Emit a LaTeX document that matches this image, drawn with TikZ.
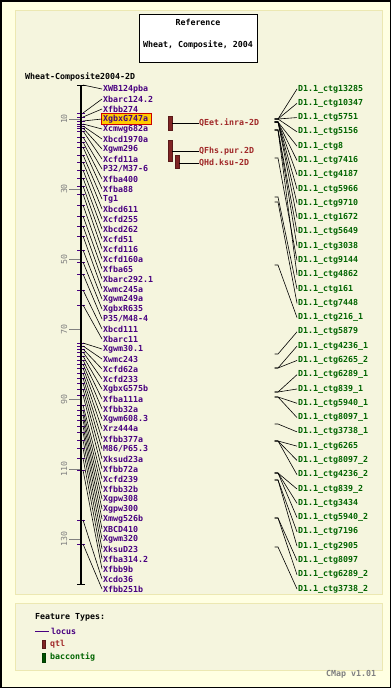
\documentclass[tikz,border=0pt]{standalone}
\usepackage{fontspec}
\newfontfamily\px{DejaVu Sans Mono}
\definecolor{outerbg}{RGB}{255,255,226}
\definecolor{panelbg}{RGB}{245,245,222}
\definecolor{panelline}{RGB}{236,232,178}
\definecolor{locuscol}{RGB}{72,0,128}
\definecolor{qtlcol}{RGB}{128,36,36}
\definecolor{qtltext}{RGB}{160,40,40}
\definecolor{bacol}{RGB}{0,100,0}
\definecolor{greytxt}{RGB}{128,128,128}
\definecolor{hlfill}{RGB}{255,204,0}
\tikzset{
  lbl/.style={font=\px\bfseries\fontsize{8.3}{9}\selectfont, inner sep=0pt, anchor=west},
  loclbl/.style={lbl, text=locuscol},
  qtllbl/.style={lbl, text=qtltext},
  baclbl/.style={lbl, text=bacol},
  plain/.style={lbl, text=black},
  conn/.style={draw=black, line width=0.6pt},
  loctick/.style={draw=locuscol, line width=0.8pt},
  qtlbar/.style={draw=qtlcol!70!black, fill=qtlcol, minimum width=4pt, inner sep=0pt, line width=0.5pt},
  panel/.style={fill=panelbg, draw=panelline, line width=1pt},
}
\begin{document}
\begin{tikzpicture}[x=1pt,y=-1pt]
\useasboundingbox (0,0) rectangle (391,688);
% backgrounds
\fill[outerbg] (0,0) rectangle (391,688);
\draw[black, line width=1.5pt] (0.75,0.75) rectangle (390.25,687.25);
\draw[panel] (15,10) rectangle (382,594);
\draw[panel] (15,603) rectangle (382,670);
% title
\node[draw=black, fill=white, line width=0.8pt, minimum width=118pt, minimum height=48pt, inner sep=0pt] (title) at (198,38) {};
\node[plain, anchor=center] (t1) at (198,22) {Reference};
\node[plain, anchor=center] (t2) at (198,45) {Wheat, Composite, 2004};
\node[plain] (mapname) at (25,77) {Wheat-Composite2004-2D};
% scale
\foreach \v/\y in {10/119,30/189,50/259,70/329,90/399,110/469,130/539}{
  \draw[greytxt, line width=0.7pt] (69,\y) -- (80,\y);
  \node[font=\px\fontsize{8.3}{9}\selectfont, text=greytxt, rotate=90, inner sep=0pt] (s\v) at (64,\y) {\v};
}
% highlight
\fill[hlfill] (101,113.5) rectangle (151,124.5);
\draw[red!80!black, line width=0.7pt] (101,113.5) rectangle (151,124.5);
% locus labels
\foreach \n [count=\i] in {XWB124pba,Xbarc124.2,Xfbb274,XgbxG747a,Xcmwg682a,Xbcd1970a,Xgwm296,Xcfd11a,P32/M37-6,Xfba400,Xfba88,Tg1,Xbcd611,Xcfd255,Xbcd262,Xcfd51,Xcfd116,Xcfd160a,Xfba65,Xbarc292.1,Xwmc245a,Xgwm249a,XgbxR635,P35/M48-4,Xbcd111,Xbarc11,Xgwm30.1,Xwmc243,Xcfd62a,Xcfd233,XgbxG575b,Xfba111a,Xfbb32a,Xgwm608.3,Xrz444a,Xfbb377a,M86/P65.3,Xksud23a,Xfbb72a,Xcfd239,Xfbb32b,Xgpw308,Xgpw300,Xmwg526b,XBCD410,Xgwm320,XksuD23,Xfba314.2,Xfbb9b,Xcdo36,Xfbb251b}{
  \node[loclbl] (L\i) at (103,{79+10*\i}) {\n};
}
% loci on the map
\foreach \m [count=\i] in {85,113,117,121,124,126,128,131,137,142,147,155,162,170,178,186,194,205,216,226,236,250,262,274,290,305,343,346,349,352,356,360,364,368,373,378,383,389,395,405,410,415,420,426,432,440,448,458,470,520,544}{
  \coordinate (M\i) at (83,\m);
  \draw[loctick] (77,\m) -- (85,\m);
  \draw[conn] (M\i) -- ([xshift=-1pt]L\i.west);
}
% axis
\draw[black, line width=2.6pt] (81,85) -- (81,585);
\draw[black, line width=1.2pt] (77,85.5) -- (85,85.5);
\draw[black, line width=1.2pt] (77,584.5) -- (85,584.5);
% QTLs
\node[qtlbar, minimum height=14pt] (Q1) at (170,123) {};
\node[qtlbar, minimum height=21pt] (Q2) at (170,150.5) {};
\node[qtlbar, minimum height=13pt] (Q3) at (177,161.5) {};
\node[qtllbl] (QL1) at (199,123) {QEet.inra-2D};
\node[qtllbl] (QL2) at (199,151) {QFhs.pur.2D};
\node[qtllbl] (QL3) at (199,163) {QHd.ksu-2D};
\draw[conn] (Q1.east |- QL1.west) -- (QL1.west);
\draw[conn] (Q2.east |- QL2.west) -- (QL2.west);
\draw[conn] (Q3.east |- QL3.west) -- (QL3.west);
% bac contig labels
\foreach \n [count=\i] in {13285,10347,5751,5156,8,7416,4187,5966,9710,1672,5649,3038,9144,4862,161,7448,216\_1,5879,4236\_1,6265\_2,6289\_1,839\_1,5940\_1,8097\_1,3738\_1,6265,8097\_2,4236\_2,839\_2,3434,5940\_2,7196,2905,8097,6289\_2,3738\_2}{
  \node[baclbl] (B\i) at (298,{89+(\i-1)*14.2857}) {D1.1\_ctg\n};
}
\foreach \c [count=\i] in {119,119,119,119,122,122,122,122,122,122,130,130,158,130,197,202,265,354,368,368,392,392,397,397,424,441,441,441,473,473,473,480,480,518,518,547}{
  \coordinate (C\i) at (278,\c);
  \draw[conn] (274.5,\c) -- (C\i) -- ([xshift=-1pt]B\i.west);
}
% legend
\node[plain] (ft) at (35,617) {Feature Types:};
\coordinate (lg1) at (35,631);
\node[loclbl] (lgl) at (51,631) {locus};
\draw[locuscol, line width=0.8pt] (lg1) -- ([xshift=-2pt]lgl.west);
\node[qtlbar, minimum height=8pt, minimum width=3pt] (lgq) at (44,644) {};
\node[qtllbl] (lgqt) at (50,644) {qtl};
\node[draw=bacol!60!black, fill=bacol!80!black, minimum height=9pt, minimum width=3pt, inner sep=0pt] (lgb) at (44,657.5) {};
\node[baclbl] (lgbt) at (50,657) {baccontig};
\node[lbl, text=greytxt] (ver) at (326,674) {CMap v1.01};
\end{tikzpicture}
\end{document}
